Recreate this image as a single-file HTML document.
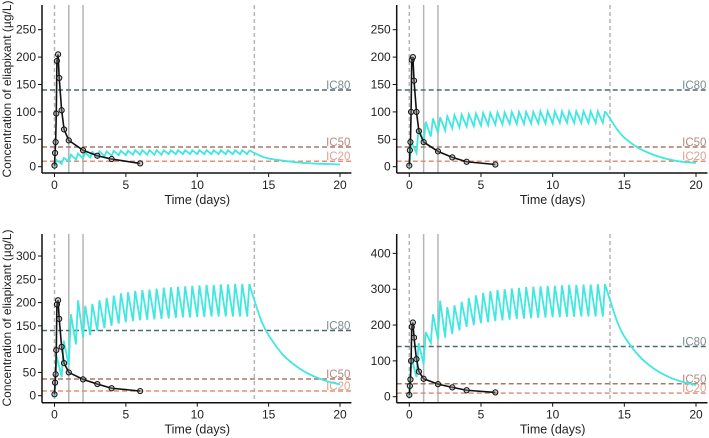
<!DOCTYPE html>
<html><head><meta charset="utf-8"><style>
body{margin:0;background:#fff;}
svg{display:block;font-family:"Liberation Sans",sans-serif;}
</style></head><body>
<svg id="chart" width="709" height="438" viewBox="0 0 709 438"></svg>
<script>
const doseTimes=[0,0.5,1,1.5,2,2.5,3,3.5,4,4.5,5,5.5,6,6.5,7,7.5,8,8.5,9,9.5,10,10.5,11,11.5,12,12.5,13,13.5];
const obsTimes=[0,0.04,0.08,0.125,0.17,0.25,0.33,0.5,0.67,1,2,3,4,6];
const tailTimes=[13.65,14,14.5,15,16,17,18,19,20];
const xTicks=[0,5,10,15,20];
const icValues=[140,36,10];
const icLabels=["IC80","IC50","IC20"];
const p1Trough=[0,5,10,13,15,17,18,19,20,21,21,22,22,22,22,22,23,23,23,23,23,23,23,23,23,23,23,23];
const p1Peak=[12,16,22,24,26,27,28,28,29,29,29,30,30,30,30,30,30,30,30,30,30,30,30,30,30,30,30,30];
const p1Tail=[30,25,19,15,11,8,6,5,4];
const p1Obs=[2,25,45,97,193,205,162,103,68,48,30,20,14,6];
const p2Trough=[0,25,45,55,62,66,70,72,73,74,75,76,77,77,78,78,78,79,79,79,79,80,80,80,80,80,80,80];
const p2Peak=[45,70,82,88,90,92,94,95,96,97,98,98,99,99,100,100,100,100,101,101,101,101,101,101,101,101,101,101];
const p2Tail=[101,88,68,53,34,22,14,9,7];
const p2Obs=[2,30,45,100,195,200,157,100,65,45,28,17,9,4];
const p3Trough=[0,40,65,110,125,130,140,145,150,155,158,160,162,163,164,165,166,167,168,168,169,169,170,170,170,170,170,170];
const p3Peak=[85,118,175,205,193,197,205,210,215,220,222,225,227,228,230,232,233,234,235,236,237,238,238,239,239,240,240,240];
const p3Tail=[240,205,160,130,88,62,44,32,24];
const p3Obs=[3,28,46,98,196,205,165,105,70,50,35,25,16,10];
const p4Trough=[0,55,90,150,160,165,175,185,195,200,205,208,211,213,215,217,218,219,220,221,222,222,223,223,224,224,224,224];
const p4Peak=[110,150,180,230,268,250,255,265,275,283,290,295,298,300,302,304,306,307,308,309,310,311,312,312,313,313,314,314];
const p4Tail=[314,270,210,168,115,80,57,42,33];
const p4Obs=[5,30,48,100,195,207,165,105,70,50,35,26,18,12];
const p1Ticks=[0,50,100,150,200,250], p2Ticks=[0,50,100,150,200,250], p3Ticks=[0,50,100,150,200,250,300], p4Ticks=[0,100,200,300,400];

const NS="http://www.w3.org/2000/svg";
const svg=document.getElementById('chart');
function mk(tag,attrs,parent){const e=document.createElementNS(NS,tag);for(const k in attrs)e.setAttribute(k,attrs[k]);(parent||svg).appendChild(e);return e;}
function smooth(p){
  let d='M'+p[0][0]+','+p[0][1];
  for(let i=0;i<p.length-1;i++){
    const a=p[i-1]||p[i],b=p[i],c=p[i+1],e=p[i+2]||c;
    const c1=[b[0]+(c[0]-a[0])/6,b[1]+(c[1]-a[1])/6],c2=[c[0]-(e[0]-b[0])/6,c[1]-(e[1]-b[1])/6];
    d+=' C'+c1.join(',')+' '+c2.join(',')+' '+c.join(',');
  }
  return d;
}

function panel(id,axX,x0,x20,axTop,axBot,y0,yPerUnit,yTicks,trough,peak,tail,obs,showY,ttlY){
  const g=mk('g',{});
  
  
  const X=t=>x0+(x20-x0)*t/20;
  const Y=v=>y0-v*yPerUnit;
  const right=X(20.8);
  [[0,true],[14,true],[1,false],[2,false]].forEach(([t,d])=>{
    const l=mk('line',{x1:X(t),x2:X(t),y1:axTop,y2:axBot,stroke:'#b5b5b5','stroke-width':1.5},g);
    if(d)l.setAttribute('stroke-dasharray','4,3');
    
    
  });
  const icCols=['#4d6a72','#a87868','#e0907a'];
  const icText=['#7a8c90','#b08a7e','#e0a090'];
  icValues.forEach((v,i)=>{
    const l=mk('line',{x1:axX,x2:right,y1:Y(v),y2:Y(v),stroke:icCols[i],'stroke-width':1.5,'stroke-dasharray':'5,3'},g);
    
    
    const t=mk('text',{x:right-1,y:Y(v)-1,'text-anchor':'end','font-size':11.5,fill:icText[i]},g);
    t.textContent=icLabels[i];
    
    
  });
  let pts=[];
  doseTimes.forEach((t,i)=>{pts.push([X(t),Y(trough[i])]);pts.push([X(t+0.15),Y(peak[i])]);});
  const pl=mk('polyline',{points:pts.map(p=>p.join(',')).join(' '),fill:'none',stroke:'#40e8e0','stroke-width':1.8},g);
  
  
  const tp=tailTimes.map((t,i)=>[X(t),Y(tail[i])]);
  const tl=mk('path',{d:smooth(tp),fill:'none',stroke:'#40e8e0','stroke-width':1.8},g);
  
  
  const op=obsTimes.map((t,i)=>X(t)+','+Y(obs[i])).join(' ');
  const ol=mk('polyline',{points:op,fill:'none',stroke:'#111','stroke-width':1.6},g);
  
  
  obsTimes.forEach((t,i)=>{
    const c=mk('circle',{cx:X(t),cy:Y(obs[i]),r:2.6,fill:'#888','fill-opacity':0.4,stroke:'#111','stroke-width':1},g);
    
    
  });
  const ay=mk('line',{x1:axX,x2:axX,y1:axTop,y2:axBot,stroke:'#111','stroke-width':1.5},g);
  
  
  const ax=mk('line',{x1:axX,x2:right,y1:axBot,y2:axBot,stroke:'#111','stroke-width':1.5},g);
  
  
  yTicks.forEach(v=>{
    mk('line',{x1:axX-4,x2:axX,y1:Y(v),y2:Y(v),stroke:'#111','stroke-width':1},g);
    const t=mk('text',{x:axX-6,y:Y(v)+4,'text-anchor':'end','font-size':12,fill:'#222'},g);
    t.textContent=v;
    
    
  });
  xTicks.forEach(v=>{
    mk('line',{x1:X(v),x2:X(v),y1:axBot,y2:axBot+4,stroke:'#111','stroke-width':1},g);
    const t=mk('text',{x:X(v),y:axBot+16,'text-anchor':'middle','font-size':12,fill:'#222'},g);
    t.textContent=v;
    
    
  });
  const xt=mk('text',{x:X(10),y:axBot+31,'text-anchor':'middle','font-size':12.5,fill:'#222'},g);
  xt.textContent='Time (days)';
  
  
  if(showY){
    const yt=mk('text',{x:0,y:0,'text-anchor':'middle','font-size':12,fill:'#222',transform:'translate(11,'+ttlY+') rotate(-90)'},g);
    yt.textContent='Concentration of eliapixant (µg/L)';
    
    
  }
}
panel('panel-top-left',42,54.5,340,5,173,166.7,0.548,p1Ticks,p1Trough,p1Peak,p1Tail,p1Obs,true,89);
panel('panel-top-right',396.7,409.3,696,5,173,166.7,0.548,p2Ticks,p2Trough,p2Peak,p2Tail,p2Obs,false,89);
panel('panel-bottom-left',42,54.5,340,234,402.7,395.7,0.4656,p3Ticks,p3Trough,p3Peak,p3Tail,p3Obs,true,318);
panel('panel-bottom-right',396.7,409.3,696,234,402.7,396.7,0.3583,p4Ticks,p4Trough,p4Peak,p4Tail,p4Obs,false,318);
</script>
</body></html>
